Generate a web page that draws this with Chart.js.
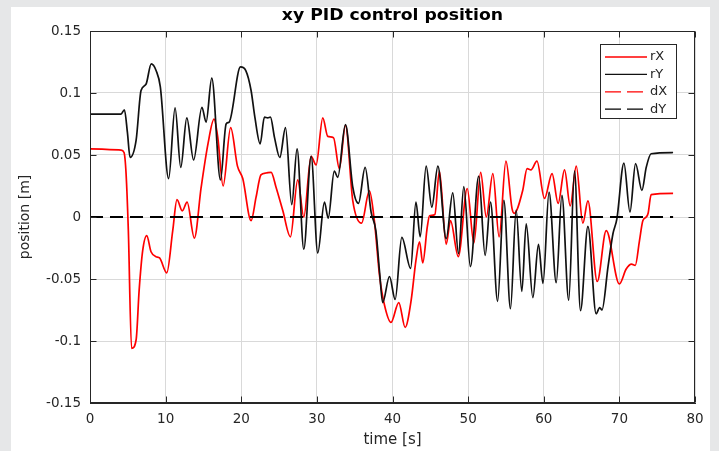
<!DOCTYPE html>
<html>
<head>
<meta charset="utf-8">
<script src="https://cdn.jsdelivr.net/npm/chart.js@4.4.1/dist/chart.umd.min.js"></script>
<style>
  html, body { margin: 0; padding: 0; background: #fff; }
  canvas { display: block; }
</style>
</head>
<body>
<canvas id="chart" width="719" height="451"></canvas>
<script>
// time [s] / position [m]
const rxTime = [0, 4.1, 4.5, 4.77, 5.07, 5.5, 6.1, 6.5, 6.97, 7.5, 8.07, 8.73, 9.2, 10.15, 10.94,
  11.5, 12.2, 12.84, 13.8, 14.7, 15.6, 16.4, 16.9, 17.6, 18.6, 19.5, 20.2, 21.3, 21.96, 22.6,
  23.28, 23.95, 24.6, 25.5, 26.5, 27.47, 28.27, 29.24, 29.9, 30.78, 31.44, 32.2, 32.97, 33.78, 34.75,
  35.9, 36.95, 37.6, 38.3, 38.9, 39.8, 40.83, 41.67, 42.47, 43.1, 43.57, 44.0, 44.6, 44.9, 45.6,
  46.2, 47.1, 47.67, 48.7, 49.88, 50.76, 51.66, 52.4, 53.27, 54.1, 55.0, 55.8, 56.1, 57.2, 57.8,
  58.3, 59.1, 60.1, 61.1, 61.9, 62.75, 63.5, 64.3, 65.17, 65.84, 67.07, 68.26, 70.0, 70.9, 71.6,
  72.1, 72.66, 73.1, 73.55, 73.8, 74.2, 77.1];
const rxPos = [0.055, 0.054, 0.052, 0.035, -0.011, -0.106, -0.099, -0.059, -0.027, -0.015,
  -0.028, -0.032, -0.033, -0.045, -0.011, 0.014, 0.005, 0.012, -0.017, 0.024,
  0.059, 0.079, 0.064, 0.025, 0.072, 0.041, 0.031, -0.003, 0.016, 0.034,
  0.0355, 0.036, 0.024, 0.005, -0.016, 0.030, 0.000, 0.049, 0.042, 0.080,
  0.065, 0.064, 0.039, 0.074, 0.013, -0.005, 0.021, -0.003, -0.048, -0.070,
  -0.085, -0.069, -0.089, -0.067, -0.035, -0.020, -0.037, -0.008, 0.001, 0.002,
  0.037, -0.022, -0.003, -0.032, 0.023, -0.021, 0.036, 0.000, 0.035, -0.016,
  0.045, 0.007, 0.003, 0.021, 0.039, 0.038, 0.045, 0.015, 0.035, 0.011,
  0.038, 0.009, 0.041, -0.005, 0.013, -0.052, -0.011, -0.054, -0.042, -0.038,
  -0.039, -0.019, -0.003, 0.000, 0.003, 0.018, 0.019];

const ryTime = [0, 4.1, 4.55, 4.95, 5.3, 6.1, 6.75, 7.4, 8.1, 8.75, 9.3, 10.4, 11.25, 12.0, 12.8,
  13.7, 14.8, 15.35, 16.1, 17.25, 18.0, 18.4, 19.9, 20.6, 21.3, 21.8, 22.5, 23.06, 23.5, 23.86,
  24.4, 25.1, 25.85, 26.68, 27.38, 28.27, 29.24, 30.12, 31.0, 31.5, 32.3, 32.76, 33.78, 34.75, 35.5,
  36.38, 37.17, 37.8, 38.3, 38.7, 39.6, 40.35, 41.23, 42.4, 43.1, 43.66, 44.45, 45.2, 46.0, 47.1,
  47.97, 48.73, 49.43, 50.3, 51.4, 52.25, 52.96, 53.9, 54.72, 55.6, 56.35, 57.1, 57.68, 58.56, 59.3,
  59.9, 60.7, 61.65, 62.4, 63.3, 64.07, 64.86, 65.84, 66.93, 67.4, 67.7, 68.5, 69.15, 69.67, 70.6,
  71.4, 72.14, 72.98, 73.55, 74.2, 77.1];
const ryPos = [0.083, 0.083, 0.0865, 0.068, 0.048, 0.062, 0.102, 0.107, 0.1235, 0.118,
  0.105, 0.031, 0.088, 0.040, 0.080, 0.046, 0.0885, 0.0765, 0.112, 0.030,
  0.075, 0.0765, 0.121, 0.118, 0.102, 0.0805, 0.059, 0.0805, 0.080, 0.0805,
  0.064, 0.048, 0.072, 0.010, 0.055, -0.026, 0.049, -0.029, 0.012, -0.001,
  0.037, 0.032, 0.0745, 0.024, 0.011, 0.040, 0.004, -0.011, -0.045, -0.069,
  -0.048, -0.0665, -0.0165, -0.0415, 0.012, -0.016, 0.041, 0.008, 0.041, -0.0175,
  0.0195, -0.0295, 0.0245, -0.040, 0.033, -0.031, 0.012, -0.068, 0.0135, -0.074,
  0.0055, -0.060, -0.0055, -0.065, -0.022, -0.0535, 0.020, -0.053, 0.0175, -0.067,
  0.037, -0.0755, -0.0075, -0.078, -0.073, -0.075, -0.040, -0.0135, -0.0015, 0.0435,
  0.004, 0.043, 0.0215, 0.040, 0.051, 0.052];

// desired positions (both zero)
const refTime = [0, 77.1];
const dxPos = [0, 0];
const dyPos = [0, 0];

const xTicks = [0, 10, 20, 30, 40, 50, 60, 70, 80];
const xTickLabels = ['0', '10', '20', '30', '40', '50', '60', '70', '80'];
const yTicks = [-0.15, -0.1, -0.05, 0, 0.05, 0.1, 0.15];
const yTickLabels = ['-0.15', '-0.1', '-0.05', '0', '0.05', '0.1', '0.15'];

const seriesNames = ['rX', 'rY', 'dX', 'dY'];
const chartTitle = 'xy PID control position';

const INK = '#262626';
Chart.defaults.font.family = '"DejaVu Sans", sans-serif';
Chart.defaults.color = INK;

const toPoints = (xs, ys) => xs.map((x, i) => ({ x: x, y: ys[i] }));

// matlab-ish figure: gray frame, title, box with inward ticks, legend inside
const matlabFrame = {
    id: 'matlabFrame',
    beforeDraw(chart) {
        const { ctx, width, height } = chart;
        ctx.save();
        ctx.fillStyle = '#e6e7e8';
        ctx.fillRect(0, 0, width, height);
        ctx.fillStyle = '#ffffff';
        ctx.fillRect(11, 7, 699, height - 7);
        ctx.restore();
    },
    afterDraw(chart) {
        const { ctx, chartArea: a, scales } = chart;
        const L = Math.round(a.left) + 0.5, R = Math.round(a.right) - 0.5;
        const T = Math.round(a.top) + 0.5, B = Math.round(a.bottom) - 0.5;
        ctx.save();
        ctx.strokeStyle = INK;
        ctx.lineWidth = 1;
        ctx.strokeRect(L, T, R - L, B - T);
        ctx.beginPath();
        xTicks.forEach(v => {
            const px = Math.round(scales.x.getPixelForValue(v)) + 0.5;
            ctx.moveTo(px, B); ctx.lineTo(px, B - 6);
            ctx.moveTo(px, T); ctx.lineTo(px, T + 6);
        });
        yTicks.forEach(v => {
            const py = Math.round(scales.y.getPixelForValue(v)) + 0.5;
            ctx.moveTo(L, py); ctx.lineTo(L + 6, py);
            ctx.moveTo(R, py); ctx.lineTo(R - 6, py);
        });
        ctx.stroke();

        // title, a bit wide like the source
        ctx.fillStyle = '#000';
        ctx.font = 'bold 15px "DejaVu Sans", sans-serif';
        ctx.textAlign = 'center';
        ctx.textBaseline = 'middle';
        ctx.translate((a.left + a.right) / 2, 16.5);
        ctx.scale(1.15, 1);
        ctx.fillText(chartTitle, 0, 0);
        ctx.restore();

        // legend box
        ctx.save();
        ctx.fillStyle = '#fff';
        ctx.fillRect(600.5, 44.5, 76, 74);
        ctx.strokeStyle = INK;
        ctx.strokeRect(600.5, 44.5, 76, 74);
        ctx.font = '13px "DejaVu Sans", sans-serif';
        ctx.textBaseline = 'middle';
        chart.data.datasets.forEach((ds, i) => {
            const y = 57 + i * 17.4;
            ctx.strokeStyle = ds.borderColor;
            ctx.lineWidth = 1.3;
            ctx.setLineDash(ds.borderDash && ds.borderDash.length ? [16, 6] : []);
            ctx.beginPath();
            ctx.moveTo(605, y);
            ctx.lineTo(647, y);
            ctx.stroke();
            ctx.fillStyle = INK;
            ctx.fillText(ds.label, 650, y);
        });
        ctx.restore();
    }
};

const lineStyle = {
    pointRadius: 0,
    borderWidth: 1.7,
    cubicInterpolationMode: 'monotone',
    fill: false
};

const chart = new Chart(document.getElementById('chart'), {
    type: 'line',
    data: {
        datasets: [
            { ...lineStyle, label: seriesNames[0], data: toPoints(rxTime, rxPos), borderColor: '#ff0000', order: 4 },
            { ...lineStyle, label: seriesNames[1], data: toPoints(ryTime, ryPos), borderColor: '#111111', order: 3 },
            { ...lineStyle, label: seriesNames[2], data: toPoints(refTime, dxPos), borderColor: '#ff0000', borderDash: [13, 7], borderWidth: 1, order: 2 },
            { ...lineStyle, label: seriesNames[3], data: toPoints(refTime, dyPos), borderColor: '#000000', borderDash: [13, 7], borderWidth: 2, order: 1 }
        ]
    },
    options: {
        responsive: false,
        animation: false,
        layout: { padding: { left: 14, right: 24, top: 31, bottom: 0 } },
        plugins: {
            legend: { display: false },
            tooltip: { enabled: false }
        },
        scales: {
            x: {
                type: 'linear',
                min: 0,
                max: 80,
                afterBuildTicks: s => { s.ticks = xTicks.map(v => ({ value: v })); },
                afterFit: s => { s.height = 48; },
                ticks: {
                    padding: 8,
                    maxRotation: 0,
                    font: { size: 13.5 },
                    callback: (v, i) => xTickLabels[i]
                },
                grid: { color: '#d9d9d9', drawTicks: false },
                border: { color: INK, width: 1 },
                title: { display: true, text: 'time [s]', font: { size: 15 }, padding: { top: 0, bottom: 2 } }
            },
            y: {
                min: -0.15,
                max: 0.15,
                afterBuildTicks: s => { s.ticks = yTicks.map(v => ({ value: v })); },
                afterFit: s => { s.width = 76; },
                ticks: {
                    padding: 9,
                    font: { size: 13.5 },
                    callback: (v, i) => yTickLabels[i]
                },
                grid: { color: '#d9d9d9', drawTicks: false },
                border: { color: INK, width: 1 },
                title: { display: true, text: 'position [m]', font: { size: 14 }, padding: { top: 3, bottom: 0 } }
            }
        }
    },
    plugins: [matlabFrame]
});
</script>
</body>
</html>
